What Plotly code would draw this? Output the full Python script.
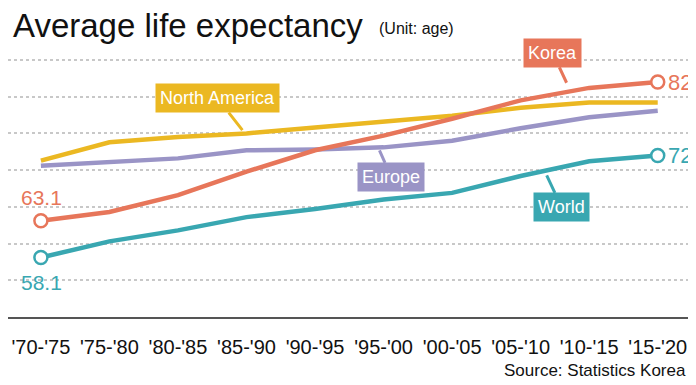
import plotly.graph_objects as go

periods = ["'70-'75", "'75-'80", "'80-'85", "'85-'90", "'90-'95",
           "'95-'00", "'00-'05", "'05-'10", "'10-'15", "'15-'20"]
korea = [63.1, 64.3, 66.6, 69.8, 72.7, 74.7, 77.0, 79.5, 81.2, 82.0]
north_america = [71.3, 73.8, 74.5, 75.0, 75.8, 76.6, 77.4, 78.5, 79.2, 79.2]
europe = [70.6, 71.1, 71.6, 72.7, 72.8, 73.1, 74.0, 75.7, 77.2, 78.1]
world = [58.1, 60.3, 61.8, 63.6, 64.7, 66.0, 66.9, 69.2, 71.2, 72.0]

C_KOREA = "#E7765A"
C_NA = "#EBB822"
C_EU = "#9A94C6"
C_WORLD = "#39A7B1"
FONT = "Liberation Sans, Arial, sans-serif"

xs = list(range(len(periods)))
fig = go.Figure()

for vals, col in [(north_america, C_NA), (europe, C_EU), (world, C_WORLD), (korea, C_KOREA)]:
    fig.add_trace(go.Scatter(x=xs, y=vals, mode="lines",
                             line=dict(color=col, width=4.5), hoverinfo="skip"))

for vals, col in [(korea, C_KOREA), (world, C_WORLD)]:
    fig.add_trace(go.Scatter(x=[xs[0], xs[-1]], y=[vals[0], vals[-1]], mode="markers",
                             marker=dict(size=13, color="white", line=dict(color=col, width=2.5)),
                             hoverinfo="skip"))

ann = []
# end value labels
ann.append(dict(x=xs[-1], y=korea[-1], text="82", xanchor="left", xshift=8, yanchor="middle",
                showarrow=False, font=dict(size=22, color=C_KOREA, family=FONT)))
ann.append(dict(x=xs[-1], y=world[-1], text="72", xanchor="left", xshift=8, yanchor="middle",
                showarrow=False, font=dict(size=22, color=C_WORLD, family=FONT)))
ann.append(dict(x=xs[0], y=korea[0], text="63.1", xanchor="center", xshift=1, yanchor="bottom", yshift=10,
                showarrow=False, font=dict(size=21, color=C_KOREA, family=FONT)))
ann.append(dict(x=xs[0], y=world[0], text="58.1", xanchor="center", xshift=1, yanchor="top", yshift=-11,
                showarrow=False, font=dict(size=21, color=C_WORLD, family=FONT)))

# series labels with pointers
def tag(text, col, x, y, ax, ay):
    return dict(x=x, y=y, text=text, showarrow=True, arrowhead=0, arrowwidth=3, arrowcolor=col,
                ax=ax, ay=ay, bgcolor=col, borderpad=4, standoff=0,
                font=dict(size=18, color="white", family=FONT))

ann.append(tag("Korea", C_KOREA, 7.67, 81.9, -14, -30))
ann.append(tag("North America", C_NA, 2.94, 75.45, -25, -32))
ann.append(tag("Europe", C_EU, 4.94, 72.7, 12, 27))
ann.append(tag("World", C_WORLD, 7.38, 69.3, 15, 32))

# title / notes
ann.append(dict(xref="paper", yref="paper", x=0, y=1, xanchor="left", yanchor="bottom",
                text="Average life expectancy", showarrow=False, xshift=3, yshift=-1,
                font=dict(size=33, color="#111111", family=FONT)))
ann.append(dict(xref="paper", yref="paper", x=0, y=1, xanchor="left", yanchor="bottom",
                text="(Unit: age)", showarrow=False, xshift=369, yshift=6,
                font=dict(size=16, color="#111111", family=FONT)))
ann.append(dict(xref="paper", yref="paper", x=1, y=0, xanchor="right", yanchor="top",
                text="Source: Statistics Korea", showarrow=False, xshift=-4, yshift=-42,
                font=dict(size=17, color="#111111", family=FONT)))

# the page body adds an 8px margin, so the figure is sized to the visible area
fig.update_layout(
    width=688, height=377,
    margin=dict(l=0, r=4, t=37, b=68, autoexpand=False),
    paper_bgcolor="white", plot_bgcolor="white",
    showlegend=False,
    annotations=ann,
    xaxis=dict(range=[-0.48, 9.5], tickvals=xs, ticktext=periods, showgrid=False,
               zeroline=False, showline=True, linecolor="#555555", linewidth=2,
               ticks="", tickangle=0, automargin=False, ticklabelstandoff=11,
               tickfont=dict(size=20, color="#111111", family=FONT), fixedrange=True),
    yaxis=dict(range=[50, 87.04], tickvals=[55, 60, 65, 70, 75, 80, 85], showticklabels=False,
               showgrid=True, gridcolor="#C8C8C8", gridwidth=1.5, griddash="dot",
               zeroline=False, showline=False, ticks="", automargin=False, fixedrange=True),
)

fig.write_html("out.html")
